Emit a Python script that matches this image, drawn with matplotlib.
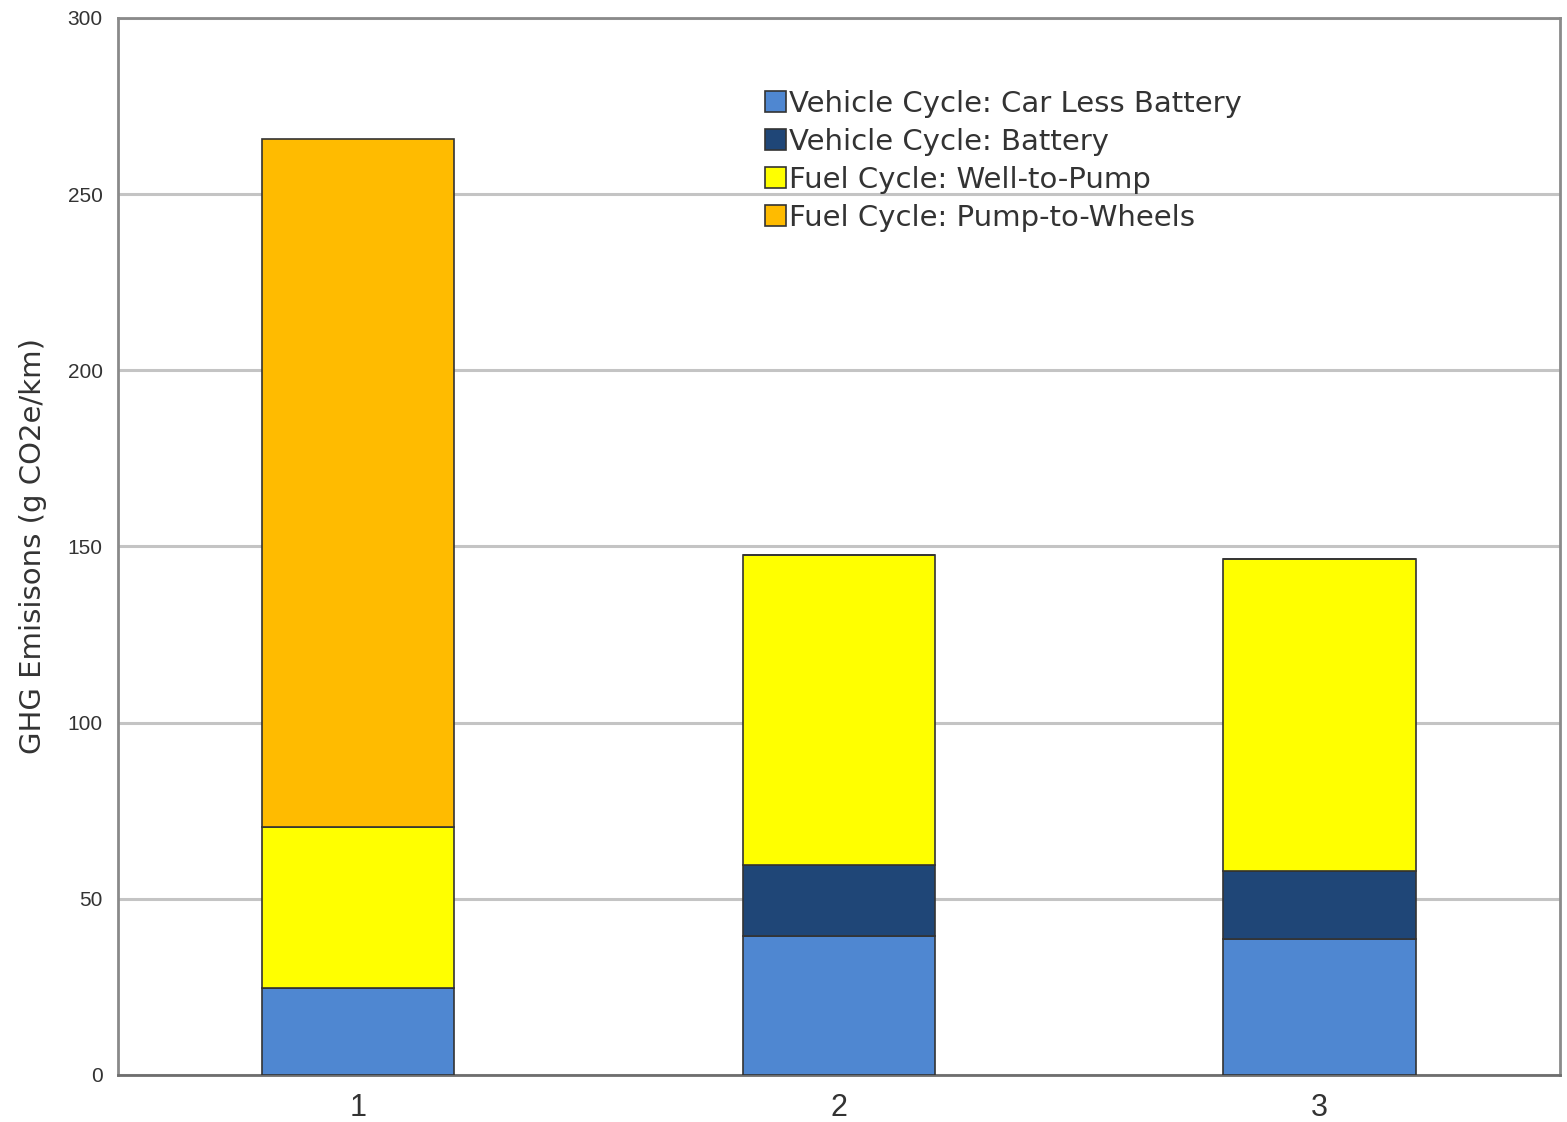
import numpy as np
import matplotlib
matplotlib.use('Agg')
import matplotlib.pyplot as plt

plt.rcParams['font.family'] = ['Liberation Sans', 'DejaVu Sans']

# GHG emissions per km, split by life-cycle stage
vehicles = ['1', '2', '3']
car_less_battery = [24.7, 39.5, 38.6]
battery = [0.0, 20.1, 19.3]
well_to_pump = [45.7, 88.0, 88.6]
pump_to_wheels = [195.3, 0.0, 0.0]

series = [
    ('Vehicle Cycle: Car Less Battery', car_less_battery, '#4F87D1'),
    ('Vehicle Cycle: Battery', battery, '#1F4677'),
    ('Fuel Cycle: Well-to-Pump', well_to_pump, '#FFFF00'),
    ('Fuel Cycle: Pump-to-Wheels', pump_to_wheels, '#FFBB00'),
]

fig = plt.figure(figsize=(15.67, 11.22), dpi=100)
ax = fig.add_axes([0.0753, 0.0419, 0.9202, 0.9421])

x = np.arange(len(vehicles))
bottom = np.zeros(len(vehicles))
for label, vals, color in series:
    vals = np.array(vals)
    ax.bar(x, vals, width=0.4, bottom=bottom, color=color, edgecolor='#333333',
           linewidth=1.2, label=label, zorder=3)
    bottom += vals

ax.set_xlim(-0.5, 2.5)
ax.set_ylim(0, 300)
ax.set_yticks(np.arange(0, 301, 50))
ax.set_xticks(x)
ax.set_xticklabels(vehicles)
ax.yaxis.grid(True, color='#C4C4C4', linewidth=2.2, zorder=0)
ax.set_axisbelow(True)

for sp in ax.spines.values():
    sp.set_color('#8A8A8A')
    sp.set_linewidth(2)
ax.spines['bottom'].set_color('#6E6E6E')

ax.tick_params(axis='y', length=0, pad=11, labelsize=15, labelcolor='#333333')
ax.tick_params(axis='x', length=0, pad=13, labelsize=22, labelcolor='#333333')
ax.set_ylabel('GHG Emisisons (g CO2e/km)', fontsize=21, color='#333333',
              labelpad=15, family='DejaVu Sans')

leg = ax.legend(loc='upper left', bbox_to_anchor=(0.449, 0.932), frameon=False,
                prop={'family': 'DejaVu Sans', 'size': 21},
                handlelength=0.7, handleheight=0.7, handletextpad=0.1,
                labelspacing=0.34, borderpad=0, borderaxespad=0)
for txt in leg.get_texts():
    txt.set_color('#333333')

fig.savefig('out.png', dpi=100)
